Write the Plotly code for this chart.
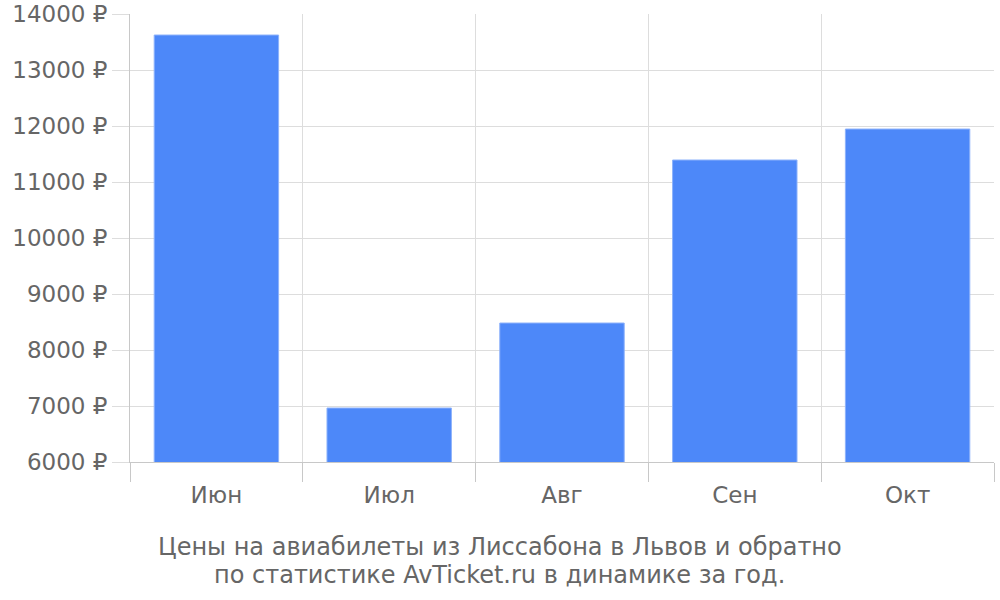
import plotly.graph_objects as go

months = ["Июн", "Июл", "Авг", "Сен", "Окт"]
prices = [13625, 6964, 8482, 11393, 11946]
y_ticks = [6000, 7000, 8000, 9000, 10000, 11000, 12000, 13000, 14000]
title_lines = ["Цены на авиабилеты из Лиссабона в Львов и обратно",
               "по статистике AvTicket.ru в динамике за год."]

font_family = "DejaVu Sans"
grey = "#666666"

fig = go.Figure()
fig.add_trace(go.Bar(
    x=months, y=prices,
    marker=dict(color="#4D88F9", line=dict(color="#8DB2FB", width=1)),
    width=0.72,
    hoverinfo="x+y",
))

title_y = [-0.1897, -0.2522]

fig.update_layout(
    width=1000, height=600,
    margin=dict(l=130, r=6, t=14, b=138, autoexpand=False),
    paper_bgcolor="white", plot_bgcolor="white",
    showlegend=False,
    font=dict(family=font_family, color=grey, size=24),
    xaxis=dict(
        type="category",
        tickson="boundaries",
        ticks="outside", ticklen=19, tickcolor="#C8C8C8", tickwidth=1,
        ticklabelstandoff=12,
        showgrid=True, gridcolor="#DDDDDD", gridwidth=1,
        showline=True, linecolor="#C8C8C8", linewidth=1,
        tickfont=dict(size=23, color=grey, family=font_family),
        automargin=False,
        fixedrange=True,
    ),
    yaxis=dict(
        range=[6000, 14000.5],
        tickvals=y_ticks,
        ticktext=[f"{v} ₽" for v in y_ticks],
        ticks="outside", ticklen=17, tickcolor="#DDDDDD",
        showgrid=True, gridcolor="#DDDDDD", gridwidth=1,
        showline=True, linecolor="#C8C8C8", linewidth=1,
        tickfont=dict(size=23, color=grey, family=font_family),
        zeroline=False,
        automargin=False,
        fixedrange=True,
    ),
    annotations=[dict(
        text=line,
        x=0.428, xref="paper", y=yy, yref="paper",
        xanchor="center", yanchor="middle", showarrow=False,
        font=dict(size=24, color=grey, family=font_family),
    ) for line, yy in zip(title_lines, title_y)],
)

fig.write_html("out.html", config={"displayModeBar": False},
               post_script="document.body.style.margin='0';")
